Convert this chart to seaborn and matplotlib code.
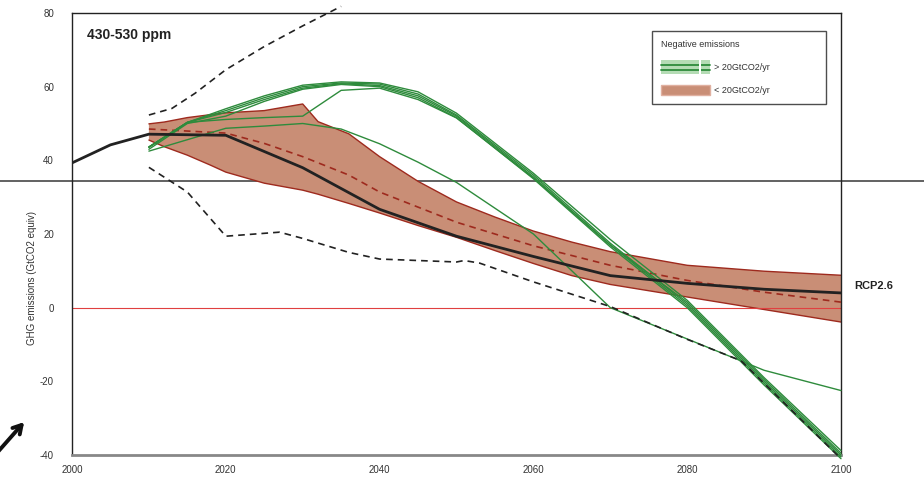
import pandas as pd
import matplotlib.pyplot as plt
import seaborn as sns
from matplotlib.patches import Patch, Rectangle
from matplotlib.lines import Line2D
from matplotlib.legend_handler import HandlerBase

sns.set_style('white')
plt.rcParams['font.family'] = ['Liberation Sans', 'DejaVu Sans']
plt.rcParams['axes.unicode_minus'] = False

# historical + median pathway (black solid)
median_years = [2000, 2005, 2010, 2020, 2030, 2040, 2050, 2060, 2070, 2080, 2090, 2100]
median_vals = [39.3, 44.2, 47.1, 46.8, 38.0, 26.7, 19.4, 13.9, 8.7, 6.6, 5.0, 4.0]

# range of scenarios with < 20GtCO2/yr negative emissions (brown band)
band_years = [2010, 2012, 2015, 2018, 2020, 2025, 2030, 2032, 2036, 2040, 2045, 2050,
              2055, 2060, 2065, 2070, 2080, 2090, 2100]
band_upper = [49.9, 50.4, 51.6, 52.4, 52.9, 53.5, 55.3, 50.5, 47.2, 41.0, 34.3, 28.7,
              24.6, 20.8, 17.8, 15.2, 11.5, 9.9, 8.8]
band_lower = [45.5, 43.7, 41.4, 38.7, 36.8, 33.8, 31.9, 30.8, 28.3, 25.7, 22.3, 19.1,
              15.5, 12.0, 8.7, 6.3, 2.9, -0.5, -3.9]

# band median (red dashed)
band_mid_years = [2010, 2020, 2025, 2030, 2036, 2040, 2050, 2060, 2070, 2080, 2090, 2100]
band_mid_vals = [48.5, 47.4, 44.6, 41.0, 36.0, 31.4, 23.2, 16.8, 11.5, 7.4, 4.2, 1.5]

# full range (black dashed)
hi_years = [2010, 2013, 2016, 2020, 2025, 2030, 2035]
hi_vals = [52.3, 54.1, 58.2, 64.6, 70.9, 76.5, 81.8]
lo_years = [2010, 2015, 2020, 2027, 2030, 2036, 2040, 2050, 2051, 2053, 2060, 2070, 2080, 2087, 2100]
lo_vals = [38.1, 31.4, 19.4, 20.5, 18.8, 15.0, 13.2, 12.4, 12.8, 12.1, 7.0, 0.3, -8.6, -14.4, -41.0]

# scenarios with > 20GtCO2/yr negative emissions (green)
green_years = [2010, 2015, 2020, 2025, 2030, 2035, 2040, 2045, 2050, 2060, 2070, 2080, 2090, 2100]
green_runs = [
    [43.6, 50.3, 54.0, 57.5, 60.4, 61.3, 61.0, 58.6, 52.8, 36.5, 18.5, 2.0, -19.0, -38.8],
    [43.6, 50.3, 53.5, 57.0, 60.0, 61.0, 60.7, 58.0, 52.3, 36.0, 17.5, 1.0, -20.0, -40.0],
    [43.6, 50.3, 53.0, 56.5, 59.6, 60.8, 60.3, 57.5, 52.0, 35.5, 17.0, 0.5, -20.5, -40.5],
    [43.0, 50.0, 52.0, 56.0, 59.3, 60.6, 60.0, 57.0, 51.6, 35.0, 16.5, 0.0, -21.0, -41.0],
    [43.6, 50.3, 51.1, 51.6, 52.0, 59.0, 59.6, 56.5, 51.5, 35.2, 17.0, 1.5, -19.5, -39.5],
    [42.5, 45.6, 48.7, 49.3, 50.0, 48.5, 44.5, 39.5, 34.0, 20.0, 0.0, -8.5, -17.0, -22.5],
]

green_df = pd.DataFrame(
    [(i, y, v) for i, run in enumerate(green_runs) for y, v in zip(green_years, run)],
    columns=['run', 'year', 'value'])

brown = '#c98e76'
dark_red = '#9e2a1e'
green = '#2e8b3c'

fig = plt.figure(figsize=(9.24, 4.79), dpi=100)
ax = fig.add_axes([72/924, 1-455/479, (841-72)/924, (455-13)/479])
ax.patch.set_alpha(0)

# stray horizontal rule across the whole figure, behind the plot
fig.add_artist(Line2D([0, 1], [1-181/479, 1-181/479], transform=fig.transFigure,
                      color='#555555', lw=1.3, zorder=-1))

ax.fill_between(band_years, band_lower, band_upper, facecolor=brown, edgecolor='none', zorder=1)
sns.lineplot(x=band_years, y=band_upper, ax=ax, color=dark_red, lw=1, zorder=2)
sns.lineplot(x=band_years, y=band_lower, ax=ax, color=dark_red, lw=1, zorder=2)
ax.axhline(0, color='#e04040', lw=0.8, zorder=2.5)
sns.lineplot(x=band_mid_years, y=band_mid_vals, ax=ax, color=dark_red, lw=1.2,
             linestyle=(0, (4, 3)), zorder=2.6)

sns.lineplot(data=green_df, x='year', y='value', units='run', estimator=None, ax=ax,
             color=green, lw=1, zorder=3, clip_on=False)

sns.lineplot(x=hi_years, y=hi_vals, ax=ax, color='#222222', lw=1.2,
             linestyle=(0, (4, 3)), zorder=4, clip_on=False)
sns.lineplot(x=lo_years, y=lo_vals, ax=ax, color='#222222', lw=1.2,
             linestyle=(0, (4, 3)), zorder=4, clip_on=False)
sns.lineplot(x=median_years, y=median_vals, ax=ax, color='#222222', lw=2, zorder=5)

ax.set_xlim(2000, 2100)
ax.set_ylim(-40, 80)
ax.set_xticks([2000, 2020, 2040, 2060, 2080, 2100])
ax.set_yticks([80, 60, 40, 20, 0, -20, -40])
ax.tick_params(axis='x', direction='in', length=3, width=1, labelsize=7, pad=7,
               colors='#555555', labelcolor='#333333')
ax.tick_params(axis='y', direction='out', length=4, width=1, labelsize=7, pad=9,
               colors='#222222', labelcolor='#333333')
ax.set_xlabel('')
ax.set_ylabel('GHG emissions (GtCO2 equiv)', fontsize=7, color='#333333')
ax.yaxis.set_label_coords(-0.045, 0.4)

for side in ['left', 'top', 'right']:
    ax.spines[side].set_color('#222222')
    ax.spines[side].set_linewidth(1)
ax.spines['bottom'].set_color('#888888')
ax.spines['bottom'].set_linewidth(2)

ax.text(0.0195, 0.950, '430-530 ppm', transform=ax.transAxes, fontsize=10,
        fontweight='bold', color='#222222', va='center', ha='left')
ax.text(2101.7, 5.8, 'RCP2.6', fontsize=8, fontweight='bold', color='#222222',
        va='center', ha='left', clip_on=False)


class StripeHandler(HandlerBase):
    def create_artists(self, legend, orig_handle, xdescent, ydescent, width, height,
                       fontsize, trans):
        x0, y0 = -xdescent, -ydescent - 1.5
        h = height + 3
        bg = Rectangle((x0, y0), width, h, facecolor='#b5dcb5', edgecolor='none',
                       transform=trans)
        l1 = Line2D([x0, x0 + width], [y0 + h * 0.3] * 2, color=green, lw=1.3,
                    transform=trans)
        l2 = Line2D([x0, x0 + width], [y0 + h * 0.65] * 2, color=green, lw=1.3,
                    transform=trans)
        gap = Rectangle((x0 + width * 0.77, y0), width * 0.04, h, facecolor='white',
                        edgecolor='none', transform=trans)
        return [bg, l1, l2, gap]


pad = ' ' * 19
handles = [Patch(facecolor='#b5dcb5'), Patch(facecolor=brown, edgecolor='#e0b0a0')]
leg = ax.legend(handles, ['> 20GtCO2/yr' + pad, '< 20GtCO2/yr' + pad],
                title='Negative emissions', loc='upper right',
                bbox_to_anchor=(0.984, 0.966), fontsize=6.5,
                title_fontsize=6.5, alignment='left', frameon=True, fancybox=False,
                handlelength=5.4, handleheight=1.3, handletextpad=0.4, labelspacing=1.45,
                borderpad=1.0, borderaxespad=0.3, handler_map={handles[0]: StripeHandler()})
leg.get_frame().set_edgecolor('#222222')
leg.get_frame().set_linewidth(1)
leg.get_title().set_color('#333333')
for t in leg.get_texts():
    t.set_color('#333333')

ax.annotate('', xy=(26/924, 1-420/479), xycoords='figure fraction',
            xytext=(-4/924, 1-454/479), textcoords='figure fraction',
            arrowprops=dict(arrowstyle='->,head_length=0.6,head_width=0.35',
                            lw=2.8, color='#111111'))

fig.savefig('out.png', dpi=100)
